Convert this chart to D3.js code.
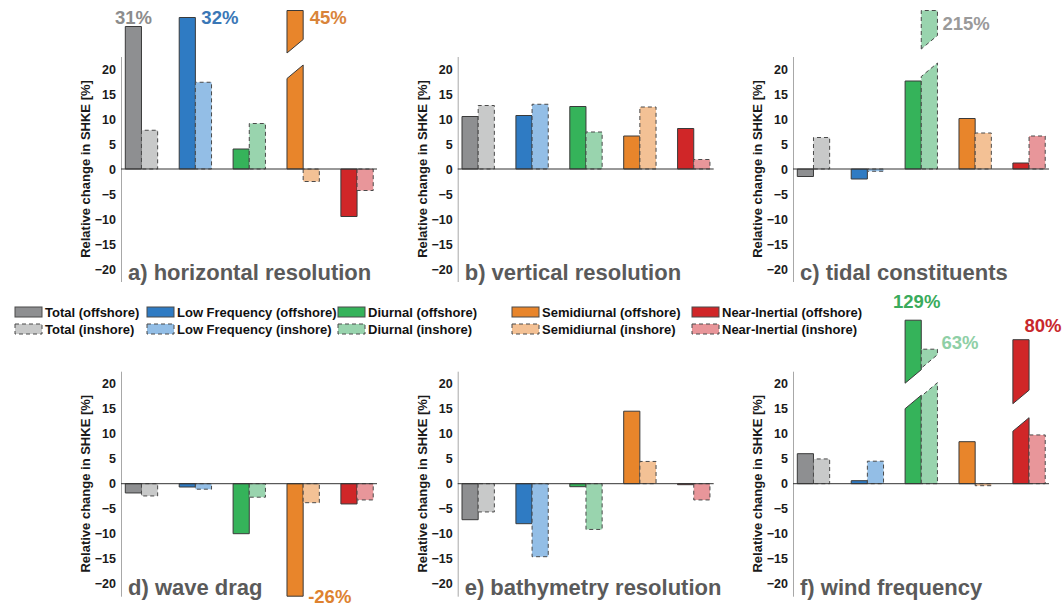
<!DOCTYPE html>
<html>
<head>
<meta charset="utf-8">
<script src="https://cdn.jsdelivr.net/npm/d3@7"></script>
<style>
    body { margin: 0; background: #fff; }
    text { font-family: "Liberation Sans", Arial, Helvetica, sans-serif; font-weight: bold; }
</style>
</head>
<body>
<div id="chart-container"></div>
<script>
// ---- data (relative change in SHKE, %) ----
const groups = ["Total", "Low Frequency", "Diurnal", "Semidiurnal", "Near-Inertial"];
const panelTitles = ["a) horizontal resolution", "b) vertical resolution", "c) tidal constituents",
    "d) wave drag", "e) bathymetry resolution", "f) wind frequency"];
const yTicks = [-20, -15, -10, -5, 0, 5, 10, 15, 20];

// drawn bar heights (bars that run off the axis keep the height they are drawn with)
const offshore_a = [28.5, 30.3, 4.0, 31.7, -9.5];
const inshore_a = [7.75, 17.35, 9.1, -2.5, -4.3];
const offshore_b = [10.5, 10.7, 12.5, 6.6, 8.1];
const inshore_b = [12.7, 12.95, 7.4, 12.4, 1.9];
const offshore_c = [-1.5, -2.0, 17.6, 10.1, 1.2];
const inshore_c = [6.3, -0.45, 31.7, 7.2, 6.6];
const offshore_d = [-1.85, -0.66, -10.0, -22.5, -4.05];
const inshore_d = [-2.45, -1.1, -2.7, -3.8, -3.25];
const offshore_e = [-7.2, -8.0, -0.6, 14.5, -0.2];
const inshore_e = [-5.65, -14.6, -9.15, 4.45, -3.25];
const offshore_f = [6.0, 0.6, 32.7, 8.4, 28.8];
const inshore_f = [4.95, 4.5, 26.9, -0.4, 9.75];

const offshoreAll = [offshore_a, offshore_b, offshore_c, offshore_d, offshore_e, offshore_f];
const inshoreAll = [inshore_a, inshore_b, inshore_c, inshore_d, inshore_e, inshore_f];

// axis breaks: lower piece ends at lo, upper piece starts at hi (values at the bar's left edge)
const breaks = [
    { panel: 0, series: "off", group: 3, lo: 18.1, hi: 23.2 },
    { panel: 2, series: "in", group: 2, lo: 18.5, hi: 24.0 },
    { panel: 5, series: "off", group: 2, lo: 15.0, hi: 20.1 },
    { panel: 5, series: "in", group: 2, lo: 17.5, hi: 23.1 },
    { panel: 5, series: "off", group: 4, lo: 10.5, hi: 16.0 }
];

// true values of the bars that leave the axis
const callouts = [
    { panel: 0, series: "off", group: 0, text: "31%" },
    { panel: 0, series: "off", group: 1, text: "32%" },
    { panel: 0, series: "off", group: 3, text: "45%" },
    { panel: 2, series: "in", group: 2, text: "215%" },
    { panel: 3, series: "off", group: 3, text: "-26%" },
    { panel: 5, series: "off", group: 2, text: "129%" },
    { panel: 5, series: "in", group: 2, text: "63%" },
    { panel: 5, series: "off", group: 4, text: "80%" }
];

// ---- styles / layout ----
const offColors = ["#8e8f91", "#2f7bc3", "#35b35a", "#e8852b", "#d02628"];
const inColors = ["#c8c9c9", "#93bee6", "#99d4ae", "#f3c195", "#e8969a"];
const calloutColors = ["#8c8c8c", "#3a77b6", "#d9843a", "#9a9a9a", "#de822f", "#3aab5c", "#8fcfa6", "#c8282c"];
// offset of each callout from its bar (anchor, dx from bar edge, dy from bar end)
const calloutPlace = [
    { anchor: "middle", ref: "center", dx: 0, dy: -2.5 },
    { anchor: "start", ref: "right", dx: 6, dy: 6.5 },
    { anchor: "start", ref: "right", dx: 6.5, dy: 13.5 },
    { anchor: "start", ref: "right", dx: 5, dy: 19.5 },
    { anchor: "start", ref: "right", dx: 5, dy: 7 },
    { anchor: "middle", ref: "center", dx: 3.5, dy: -12 },
    { anchor: "start", ref: "right", dx: 4, dy: 0 },
    { anchor: "middle", ref: "center", dx: 22, dy: -8 }
];

const W = 1063, H = 608;
const axisLefts = [121, 457.7, 793];
const axisWidth = 256;
const rowRanges = [[281.5, 56.5], [596.2, 371.2]];
const barW = 0.3;       // in group units
const slope = 2.7;      // rise of the break cut across one bar

const svg = d3.select("#chart-container")
    .append("svg")
    .attr("width", W)
    .attr("height", H)
    .attr("viewBox", `0 0 ${W} ${H}`);

svg.append("rect").attr("width", W).attr("height", H).attr("fill", "#fff");

offshoreAll.forEach((offVals, p) => {
    const inVals = inshoreAll[p];
    const left = axisLefts[p % 3];
    const row = Math.floor(p / 3);

    const x = d3.scaleLinear().domain([0.62, 5.37]).range([left, left + axisWidth]);
    const y = d3.scaleLinear().domain([-22.5, 22.5]).range(rowRanges[row]);

    const g = svg.append("g").attr("class", "panel");

    // y axis: line + tick labels, no tick marks
    const yAxis = d3.axisLeft(y).tickValues(yTicks).tickSize(0).tickPadding(5);
    const ax = g.append("g")
        .attr("class", "axis y-axis")
        .attr("transform", `translate(${left},0)`)
        .call(yAxis);
    ax.select(".domain").attr("stroke", "#a8a8a8").attr("stroke-width", 1);
    ax.selectAll(".tick text")
        .attr("font-size", 12.5)
        .attr("fill", "#1a1a1a")
        .style("font-family", "'Liberation Sans', Arial, sans-serif");

    g.append("text")
        .attr("class", "axis-label")
        .attr("transform", `translate(${left - 31},${y(0)}) rotate(-90)`)
        .attr("text-anchor", "middle")
        .attr("font-size", 13)
        .attr("fill", "#1a1a1a")
        .text("Relative change in SHKE [%]");

    // bars
    const rows = [];
    groups.forEach((name, i) => {
        rows.push({ series: "off", group: i, value: offVals[i], x0: i + 1 - barW, fill: offColors[i] });
        rows.push({ series: "in", group: i, value: inVals[i], x0: i + 1, fill: inColors[i] });
    });

    const barPaths = d => {
        const xl = x(d.x0), xr = x(d.x0 + barW);
        const br = breaks.find(b => b.panel === p && b.series === d.series && b.group === d.group);
        if (!br) {
            return [`M${xl},${y(0)}V${y(d.value)}H${xr}V${y(0)}Z`];
        }
        const lower = `M${xl},${y(0)}V${y(br.lo)}L${xr},${y(br.lo + slope)}V${y(0)}Z`;
        const upper = `M${xl},${y(br.hi)}V${y(d.value)}H${xr}V${y(br.hi + slope)}Z`;
        return [lower, upper];
    };

    rows.forEach(d => {
        g.selectAll(null)
            .data(barPaths(d))
            .join("path")
            .attr("class", "bars")
            .attr("d", s => s)
            .attr("fill", d.fill)
            .attr("stroke", d.series === "off" ? "#3a3a3a" : "#4a4a4a")
            .attr("stroke-width", 1)
            .attr("stroke-dasharray", d.series === "off" ? null : "4,3");
    });

    // zero line
    g.append("line")
        .attr("x1", left).attr("x2", left + axisWidth)
        .attr("y1", y(0)).attr("y2", y(0))
        .attr("stroke", "#333")
        .attr("stroke-width", 1);

    // callouts for bars that leave the axis
    callouts.forEach((c, k) => {
        if (c.panel !== p) return;
        const vals = c.series === "off" ? offVals : inVals;
        const x0 = c.series === "off" ? c.group + 1 - barW : c.group + 1;
        const pl = calloutPlace[k];
        const bx = pl.ref === "center" ? x(x0 + barW / 2) : x(x0 + barW);
        g.append("text")
            .attr("x", bx + pl.dx)
            .attr("y", y(vals[c.group]) + pl.dy)
            .attr("text-anchor", pl.anchor)
            .attr("font-size", 18.5)
            .attr("fill", calloutColors[k])
            .text(c.text);
    });

    // panel title
    g.append("text")
        .attr("x", left + 7)
        .attr("y", y(-22.5) - 1.5)
        .attr("font-size", 22)
        .attr("fill", "#5a5a5a")
        .text(panelTitles[p]);
});

// legend
const legendX = [15, 147, 338, 512, 692];
const legendRows = [{ series: "off", y: 307, label: "offshore" }, { series: "in", y: 324, label: "inshore" }];
const legend = svg.append("g").attr("class", "legend");
legendRows.forEach(r => {
    groups.forEach((name, i) => {
        legend.append("rect")
            .attr("x", legendX[i])
            .attr("y", r.y)
            .attr("width", 27)
            .attr("height", 10)
            .attr("fill", r.series === "off" ? offColors[i] : inColors[i])
            .attr("stroke", "#4a4a4a")
            .attr("stroke-width", 1)
            .attr("stroke-dasharray", r.series === "off" ? null : "4,3");
        legend.append("text")
            .attr("x", legendX[i] + 30)
            .attr("y", r.y + 9.5)
            .attr("font-size", 13)
            .attr("fill", "#111")
            .text(`${name} (${r.label})`);
    });
});
</script>
</body>
</html>
